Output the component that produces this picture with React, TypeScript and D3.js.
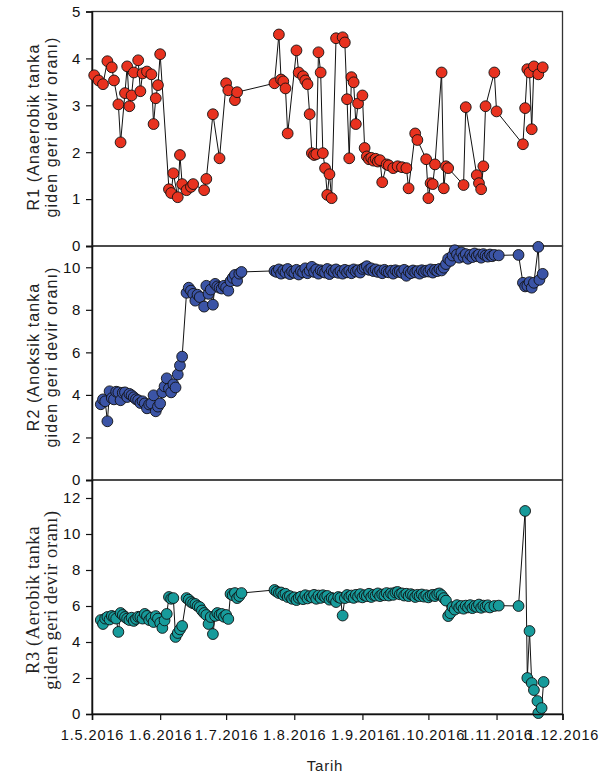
import React, { useEffect, useRef } from 'react'
import * as d3 from 'd3'

// [day since 1.5.2016, value]
const r1Data: [number, number][] = [
    [1, 3.64], [3, 3.53], [5, 3.45], [7, 3.94], [9, 3.81], [10, 3.53], [12, 3.02], [13, 2.21],
    [15, 3.26], [16, 3.83], [17, 2.98], [18, 3.21], [19, 3.70], [21, 3.96], [22, 3.30], [23, 3.68],
    [25, 3.72], [27, 3.66], [28, 2.60], [29, 3.15], [30, 3.43], [31, 4.09], [35, 1.21], [36, 1.13],
    [37, 1.55], [39, 1.04], [40, 1.94], [41, 1.32], [43, 1.19], [45, 1.26], [46, 1.32], [51, 1.19],
    [52, 1.43], [55, 2.81], [58, 1.87], [61, 3.47], [62, 3.32], [65, 3.11], [66, 3.28], [83, 3.47],
    [85, 4.51], [86, 3.55], [87, 3.51], [88, 3.36], [89, 2.40], [93, 4.17], [94, 3.70], [96, 3.62],
    [97, 3.53], [98, 3.45], [99, 2.81], [100, 1.98], [101, 1.94], [102, 1.96], [103, 4.13], [104, 3.70],
    [105, 1.98], [106, 1.66], [107, 1.09], [108, 1.53], [109, 1.02], [111, 4.43], [114, 4.45], [115, 4.34],
    [116, 3.13], [117, 1.87], [118, 3.60], [119, 3.49], [120, 2.60], [121, 3.04], [123, 3.21], [124, 2.09],
    [125, 1.91], [126, 1.85], [127, 1.88], [128, 1.82], [129, 1.86], [130, 1.80], [131, 1.83], [132, 1.36],
    [134, 1.74], [135, 1.72], [137, 1.66], [139, 1.70], [141, 1.68], [143, 1.66], [144, 1.23], [147, 2.40],
    [148, 2.26], [152, 1.85], [153, 1.02], [154, 1.34], [155, 1.32], [156, 1.74], [159, 3.70], [160, 1.23],
    [161, 1.70], [162, 1.66], [169, 1.30], [170, 2.96], [175, 1.51], [176, 1.34], [177, 1.21], [178, 1.70],
    [179, 2.98], [183, 3.70], [184, 2.87], [196, 2.17], [197, 2.94], [198, 3.77], [199, 3.70], [200, 2.49],
    [201, 3.83], [203, 3.66], [205, 3.81],
]

const r2Data: [number, number][] = [
    [4, 3.56], [5, 3.79], [6, 3.70], [7, 2.76], [8, 4.17], [9, 3.85], [10, 3.79], [11, 4.15],
    [12, 4.12], [13, 3.75], [14, 4.10], [15, 4.12], [16, 3.90], [17, 4.05], [18, 3.98], [19, 3.89],
    [20, 3.80], [21, 3.75], [22, 3.62], [23, 3.70], [24, 3.60], [25, 3.37], [26, 3.55], [27, 3.60],
    [28, 3.98], [29, 3.23], [30, 3.45], [31, 3.60], [32, 4.12], [33, 4.40], [34, 4.78], [35, 4.30],
    [36, 4.12], [37, 4.50], [38, 4.35], [39, 4.96], [40, 5.38], [41, 5.80], [43, 8.80], [44, 9.04],
    [45, 8.90], [46, 8.75], [47, 8.43], [48, 8.71], [49, 8.60], [51, 8.15], [52, 9.13], [53, 8.75],
    [54, 8.95], [55, 8.24], [56, 9.22], [57, 9.10], [58, 9.04], [59, 9.00], [60, 9.13], [61, 9.05],
    [62, 8.90], [63, 9.35], [64, 9.50], [65, 9.64], [66, 9.36], [67, 9.70], [68, 9.78],
    [83, 9.83], [84, 9.78], [85, 9.90], [86, 9.70], [87, 9.85], [88, 9.75], [89, 9.92], [90, 9.68],
    [91, 9.80], [92, 9.74], [93, 9.88], [94, 9.66], [95, 9.82], [96, 9.76], [97, 9.95], [98, 9.72],
    [99, 9.84], [100, 10.02], [101, 9.78], [102, 9.90], [103, 9.70], [104, 9.86], [105, 9.80], [106, 9.75],
    [107, 9.92], [108, 9.68], [109, 9.85], [110, 9.78], [111, 9.90], [112, 9.74], [113, 9.82], [114, 9.70],
    [115, 9.88], [116, 9.76], [117, 9.84], [118, 9.72], [119, 9.90], [120, 9.80], [121, 9.86], [122, 9.75],
    [123, 9.92], [124, 9.98], [125, 10.05], [126, 9.88], [127, 9.95], [128, 9.82], [129, 9.90], [130, 9.78],
    [131, 9.85], [132, 9.72], [133, 9.88], [134, 9.80], [135, 9.76], [136, 9.84], [137, 9.70], [138, 9.86],
    [139, 9.78], [140, 9.82], [141, 9.74], [142, 9.88], [143, 9.60], [144, 9.80], [145, 9.72], [146, 9.85],
    [147, 9.76], [148, 9.82], [149, 9.70], [150, 9.86], [151, 9.78], [152, 9.84], [153, 9.80], [154, 9.90],
    [155, 9.75], [156, 9.88], [157, 9.82], [158, 9.92], [159, 9.85], [160, 9.98], [161, 10.15], [162, 10.40],
    [163, 10.30], [164, 10.55], [165, 10.80], [166, 10.60], [167, 10.45], [168, 10.70], [169, 10.50], [170, 10.62],
    [171, 10.40], [172, 10.58], [173, 10.48], [174, 10.65], [175, 10.52], [176, 10.60], [177, 10.45], [178, 10.62],
    [179, 10.55], [180, 10.50], [181, 10.60], [182, 10.52], [183, 10.58], [185, 10.56], [194, 10.58], [196, 9.27],
    [197, 9.10], [198, 9.13], [199, 9.30], [200, 9.04], [201, 9.27], [203, 10.96], [203.5, 9.41], [205, 9.69],
]

const r3Data: [number, number][] = [
    [4, 5.22], [5, 5.00], [6, 5.30], [7, 5.39], [8, 5.25], [9, 5.45], [10, 5.39], [11, 5.30],
    [12, 4.56], [13, 5.61], [14, 5.50], [15, 5.39], [16, 5.30], [17, 5.22], [18, 5.35], [19, 5.17],
    [20, 5.28], [21, 5.40], [22, 5.39], [23, 5.30], [24, 5.56], [25, 5.45], [26, 5.22], [27, 5.35],
    [28, 5.11], [29, 5.44], [30, 5.30], [31, 5.06], [32, 4.78], [33, 5.20], [34, 5.56], [35, 6.50],
    [36, 6.40], [37, 6.44], [38, 4.28], [39, 4.50], [40, 4.70], [41, 4.89], [43, 6.44], [44, 6.35],
    [45, 6.22], [46, 6.15], [47, 6.11], [48, 6.00], [49, 5.94], [50, 5.75], [51, 5.61], [52, 5.50],
    [53, 5.00], [54, 5.39], [55, 4.44], [56, 5.45], [57, 5.61], [58, 5.50], [59, 5.56], [60, 5.40],
    [61, 5.50], [62, 5.28], [63, 6.67], [64, 6.60], [65, 6.72], [66, 6.44], [67, 6.55], [68, 6.72],
    [83, 6.89], [84, 6.80], [85, 6.72], [86, 6.75], [87, 6.61], [88, 6.68], [89, 6.50], [90, 6.55],
    [91, 6.40], [92, 6.48], [93, 6.33], [94, 6.45], [95, 6.52], [96, 6.38], [97, 6.60], [98, 6.42],
    [99, 6.55], [100, 6.48], [101, 6.62], [102, 6.40], [103, 6.58], [104, 6.45], [105, 6.60], [106, 6.50],
    [107, 6.56], [108, 6.35], [109, 6.45], [110, 6.40], [111, 6.22], [112, 6.50], [113, 6.45], [114, 5.47],
    [115, 6.44], [116, 6.61], [117, 6.50], [118, 6.58], [119, 6.45], [120, 6.62], [121, 6.52], [122, 6.66],
    [123, 6.48], [124, 6.60], [125, 6.55], [126, 6.68], [127, 6.50], [128, 6.62], [129, 6.58], [130, 6.70],
    [131, 6.55], [132, 6.64], [133, 6.60], [134, 6.72], [135, 6.58], [136, 6.70], [137, 6.62], [138, 6.75],
    [139, 6.78], [140, 6.65], [141, 6.70], [142, 6.58], [143, 6.68], [144, 6.55], [145, 6.66], [146, 6.60],
    [147, 6.50], [148, 6.62], [149, 6.55], [150, 6.64], [151, 6.52], [152, 6.60], [153, 6.48], [154, 6.58],
    [155, 6.62], [156, 6.55], [157, 6.66], [158, 6.70], [159, 6.60], [160, 6.44], [161, 6.30], [162, 5.44],
    [163, 5.60], [164, 5.94], [165, 5.80], [166, 6.05], [167, 5.90], [168, 6.00], [169, 5.85], [170, 6.02],
    [171, 5.92], [172, 6.05], [173, 5.88], [174, 6.00], [175, 5.95], [176, 6.08], [177, 5.90], [178, 6.02],
    [179, 5.96], [180, 6.04], [181, 5.92], [183, 6.00], [185, 6.02], [194, 6.00], [197, 11.28], [198, 2.00],
    [199, 4.61], [200, 1.72], [201, 1.33], [202.6, 0.72], [203, 0.05], [204.5, 0.33], [205.4, 1.78],
]

const r1Ticks = [0, 1, 2, 3, 4, 5]
const r2Ticks = [0, 2, 4, 6, 8, 10]
const r3Ticks = [0, 2, 4, 6, 8, 10, 12]
const xTickLabels = ['1.5.2016', '1.6.2016', '1.7.2016', '1.8.2016', '1.9.2016', '1.10.2016', '1.11.2016', '1.12.2016']

const START = Date.UTC(2016, 4, 1)
const END = Date.UTC(2016, 11, 1)
const toDate = (d: number) => new Date(START + d * 86400000)

const sans = '"Liberation Sans", Arial, sans-serif'
const serif = '"Liberation Serif", "Times New Roman", serif'

export default function App() {
    const svgRef = useRef<SVGSVGElement>(null)

    useEffect(() => {
        const left = 92
        const right = 562.5

        const panels = [
            { data: r1Data, yMax: 5, ticks: r1Ticks, top: 11.5, bottom: 246, fill: '#e8321f',
              title: ['R1 (Anaerobik tanka', 'giden geri devir oranı)'], font: sans, size: 16, ls: 1.1, cy: 127 },
            { data: r2Data, yMax: 11, ticks: r2Ticks, top: 246, bottom: 480, fill: '#3b54a6',
              title: ['R2 (Anoksik tanka', 'giden geri devir oranı)'], font: sans, size: 16, ls: 1.1, cy: 357 },
            { data: r3Data, yMax: 13, ticks: r3Ticks, top: 480, bottom: 714, fill: '#179b9b',
              title: ['R3 (Aerobik tanka', 'giden geri devir oranı)'], font: serif, size: 18.5, ls: 0.6, cy: 600 },
        ]

        const svg = d3.select(svgRef.current)
        svg.selectAll('*').remove()

        const x = d3.scaleUtc()
            .domain([new Date(START), new Date(END)])
            .range([left, right])

        panels.forEach((p) => {
            const y = d3.scaleLinear().domain([0, p.yMax]).range([p.bottom, p.top])
            const g = svg.append('g')

            g.append('rect')
                .attr('x', left).attr('y', p.top)
                .attr('width', right - left).attr('height', p.bottom - p.top)
                .attr('fill', 'none').attr('stroke', '#333').attr('stroke-width', 1.3)

            const ax = g.append('g')
                .attr('transform', `translate(${left},0)`)
                .call(d3.axisLeft(y).tickValues(p.ticks).tickFormat(d3.format('d')).tickSize(6).tickPadding(5))
            ax.select('.domain').attr('stroke', '#111').attr('stroke-width', 1.5)
            ax.selectAll('.tick line').attr('stroke', '#111').attr('stroke-width', 1.2)
            ax.selectAll('.tick text')
                .attr('font-family', sans).attr('font-size', 15).attr('fill', '#111')
                .attr('letter-spacing', 0.6)

            const line = d3.line<[number, number]>()
                .x(d => x(toDate(d[0])))
                .y(d => y(d[1]))

            g.append('path')
                .datum(p.data)
                .attr('d', line)
                .attr('fill', 'none')
                .attr('stroke', '#111')
                .attr('stroke-width', 1)

            g.selectAll('circle')
                .data(p.data)
                .enter().append('circle')
                .attr('cx', d => x(toDate(d[0])))
                .attr('cy', d => y(d[1]))
                .attr('r', 5.4)
                .attr('fill', p.fill)
                .attr('stroke', '#111')
                .attr('stroke-width', 0.9)

            const t = g.append('text')
                .attr('transform', `translate(0,${p.cy}) rotate(-90)`)
                .attr('text-anchor', 'middle')
                .attr('font-family', p.font)
                .attr('font-size', p.size)
                .attr('letter-spacing', p.ls)
                .attr('fill', '#222')
            t.append('tspan').attr('x', 0).attr('y', 39).text(p.title[0])
            t.append('tspan').attr('x', 0).attr('y', 57).text(p.title[1])
        })

        const xa = svg.append('g')
            .attr('transform', 'translate(0,714)')
            .call(d3.axisBottom(x)
                .tickValues(d3.utcMonth.range(new Date(START), new Date(END + 1)))
                .tickFormat((d, i) => xTickLabels[i])
                .tickSize(6).tickPadding(10))
        xa.select('.domain').attr('stroke', '#111').attr('stroke-width', 1.5)
        xa.selectAll('.tick line').attr('stroke', '#111').attr('stroke-width', 1.2)
        xa.selectAll('.tick text')
            .attr('font-family', sans).attr('font-size', 14.5).attr('fill', '#111')
            .attr('letter-spacing', 0.9)

        svg.append('text')
            .attr('x', 325).attr('y', 771)
            .attr('text-anchor', 'middle')
            .attr('font-family', sans).attr('font-size', 15).attr('fill', '#222')
            .attr('letter-spacing', 0.8)
            .text('Tarih')
    }, [])

    return (
        <svg ref={svgRef} width={607} height={776}
            style={{ position: 'absolute', left: 0, top: 0, background: '#fff' }} />
    )
}
